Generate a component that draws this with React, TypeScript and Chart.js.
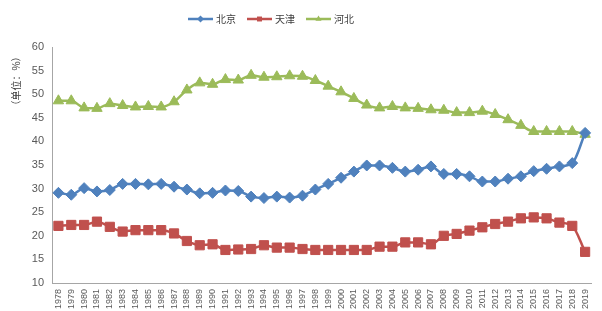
import { useEffect, useRef } from "react";
import { Chart, registerables } from "chart.js";

Chart.register(...registerables);

const years = [
  "1978", "1979", "1980", "1981", "1982", "1983", "1984", "1985", "1986", "1987",
  "1988", "1989", "1990", "1991", "1992", "1993", "1994", "1995", "1996", "1997",
  "1998", "1999", "2000", "2001", "2002", "2003", "2004", "2005", "2006", "2007",
  "2008", "2009", "2010", "2011", "2012", "2013", "2014", "2015", "2016", "2017",
  "2018", "2019",
];

const beijing = [
  29.1, 28.7, 30.1, 29.4, 29.7, 31.0, 31.0, 30.9, 31.0, 30.4,
  29.8, 29.0, 29.1, 29.6, 29.5, 28.3, 28.0, 28.3, 28.1, 28.5,
  29.8, 31.0, 32.3, 33.6, 34.9, 34.9, 34.4, 33.6, 34.0, 34.7,
  33.1, 33.1, 32.6, 31.5, 31.5, 32.1, 32.6, 33.7, 34.2, 34.7,
  35.4, 41.8,
];

const tianjin = [
  22.1, 22.3, 22.3, 23.0, 21.9, 20.9, 21.2, 21.2, 21.2, 20.5,
  18.9, 18.0, 18.2, 17.0, 17.1, 17.2, 18.0, 17.5, 17.5, 17.2,
  17.0, 17.0, 17.0, 17.0, 17.0, 17.7, 17.7, 18.6, 18.6, 18.2,
  20.0, 20.4, 21.1, 21.8, 22.5, 23.0, 23.7, 23.9, 23.7, 22.8,
  22.1, 16.6,
];

const hebei = [
  48.6, 48.6, 47.1, 47.0, 48.0, 47.6, 47.3, 47.4, 47.3, 48.4,
  50.9, 52.4, 52.1, 53.1, 53.0, 54.0, 53.6, 53.7, 53.9, 53.8,
  52.9, 51.7, 50.5, 49.1, 47.7, 47.1, 47.4, 47.1, 47.0, 46.7,
  46.6, 46.1, 46.1, 46.4, 45.7, 44.6, 43.4, 42.1, 42.1, 42.1,
  42.1, 41.5,
];

const seriesNames = ["北京", "天津", "河北"];
const seriesColors = ["#4F81BD", "#C0504D", "#9BBB59"];
const seriesMarkers = ["rectRot", "rect", "triangle"];
const seriesRadius = [5.5, 6.5, 6];
const yTitle = "（单位：%）";

function drawMarker(ctx: CanvasRenderingContext2D, style: string, x: number, y: number, r: number, color: string) {
  ctx.beginPath();
  if (style === "rectRot") {
    ctx.moveTo(x - r, y);
    ctx.lineTo(x, y - r);
    ctx.lineTo(x + r, y);
    ctx.lineTo(x, y + r);
  } else if (style === "rect") {
    const s = r * Math.SQRT1_2;
    ctx.rect(x - s, y - s, 2 * s, 2 * s);
  } else {
    ctx.moveTo(x, y - r);
    ctx.lineTo(x + r * 0.866, y + r / 2);
    ctx.lineTo(x - r * 0.866, y + r / 2);
  }
  ctx.closePath();
  ctx.fillStyle = color;
  ctx.fill();
}

const extrasPlugin = {
  id: "extras",
  afterDraw(chart: any) {
    const ctx = chart.ctx as CanvasRenderingContext2D;
    // y title
    ctx.save();
    ctx.translate(16, 81);
    ctx.rotate(-Math.PI / 2);
    ctx.fillStyle = "#404040";
    ctx.font = '10px "Noto Sans CJK SC"';
    ctx.textAlign = "center";
    ctx.textBaseline = "middle";
    ctx.fillText(yTitle, 0, 0);
    ctx.restore();

    // legend
    ctx.save();
    ctx.font = '10px "Noto Sans CJK SC"';
    let x = 188;
    const y = 19;
    chart.data.datasets.forEach((ds: any, i: number) => {
      ctx.strokeStyle = seriesColors[i];
      ctx.lineWidth = 2.5;
      ctx.beginPath();
      ctx.moveTo(x, y);
      ctx.lineTo(x + 25, y);
      ctx.stroke();
      drawMarker(ctx, seriesMarkers[i], x + 12.5, y, 3.5, seriesColors[i]);
      ctx.fillStyle = "#404040";
      ctx.textAlign = "left";
      ctx.textBaseline = "middle";
      ctx.fillText(ds.label, x + 28, y);
      x += 28 + ctx.measureText(ds.label).width + 11;
    });
    ctx.restore();
  },
};

export default function App() {
  const ref = useRef<HTMLCanvasElement | null>(null);

  useEffect(() => {
    document.body.style.margin = "0";
    const canvas = ref.current;
    if (!canvas) return;
    const seriesData = [beijing, tianjin, hebei];
    const chart = new Chart(canvas, {
      type: "line",
      data: {
        labels: years,
        datasets: seriesData.map((d, i) => ({
          label: seriesNames[i],
          data: d,
          borderColor: seriesColors[i],
          backgroundColor: seriesColors[i],
          borderWidth: 2.5,
          pointStyle: seriesMarkers[i] as any,
          pointRadius: seriesRadius[i],
          pointBorderWidth: 1,
          pointBorderColor: seriesColors[i],
          pointBackgroundColor: seriesColors[i],
          tension: 0.35,
          cubicInterpolationMode: "monotone" as const,
        })),
      },
      options: {
        animation: false,
        responsive: false,
        layout: { padding: { left: 0, right: 2, top: 47, bottom: 0 } },
        plugins: {
          legend: { display: false },
          tooltip: { enabled: false },
        },
        scales: {
          x: {
            offset: true,
            grid: { display: false, drawTicks: false },
            border: { display: true, color: "#A6A6A6", width: 1 },
            ticks: {
              autoSkip: false,
              maxRotation: 90,
              minRotation: 90,
              padding: 6,
              color: "#595959",
              font: { family: "Liberation Sans", size: 9 },
            },
            afterFit(axis: any) {
              axis.height = 28;
            },
          },
          y: {
            min: 10,
            max: 60,
            ticks: {
              stepSize: 5,
              padding: 8,
              color: "#595959",
              font: { family: "Liberation Sans", size: 11 },
            },
            grid: { display: false, drawTicks: false },
            border: { display: true, color: "#A6A6A6", width: 1 },
            afterFit(axis: any) {
              axis.width = 52;
            },
          },
        },
      },
      plugins: [extrasPlugin],
    });
    return () => chart.destroy();
  }, []);

  return <canvas ref={ref} width={602} height={311} style={{ display: "block" }} />;
}
